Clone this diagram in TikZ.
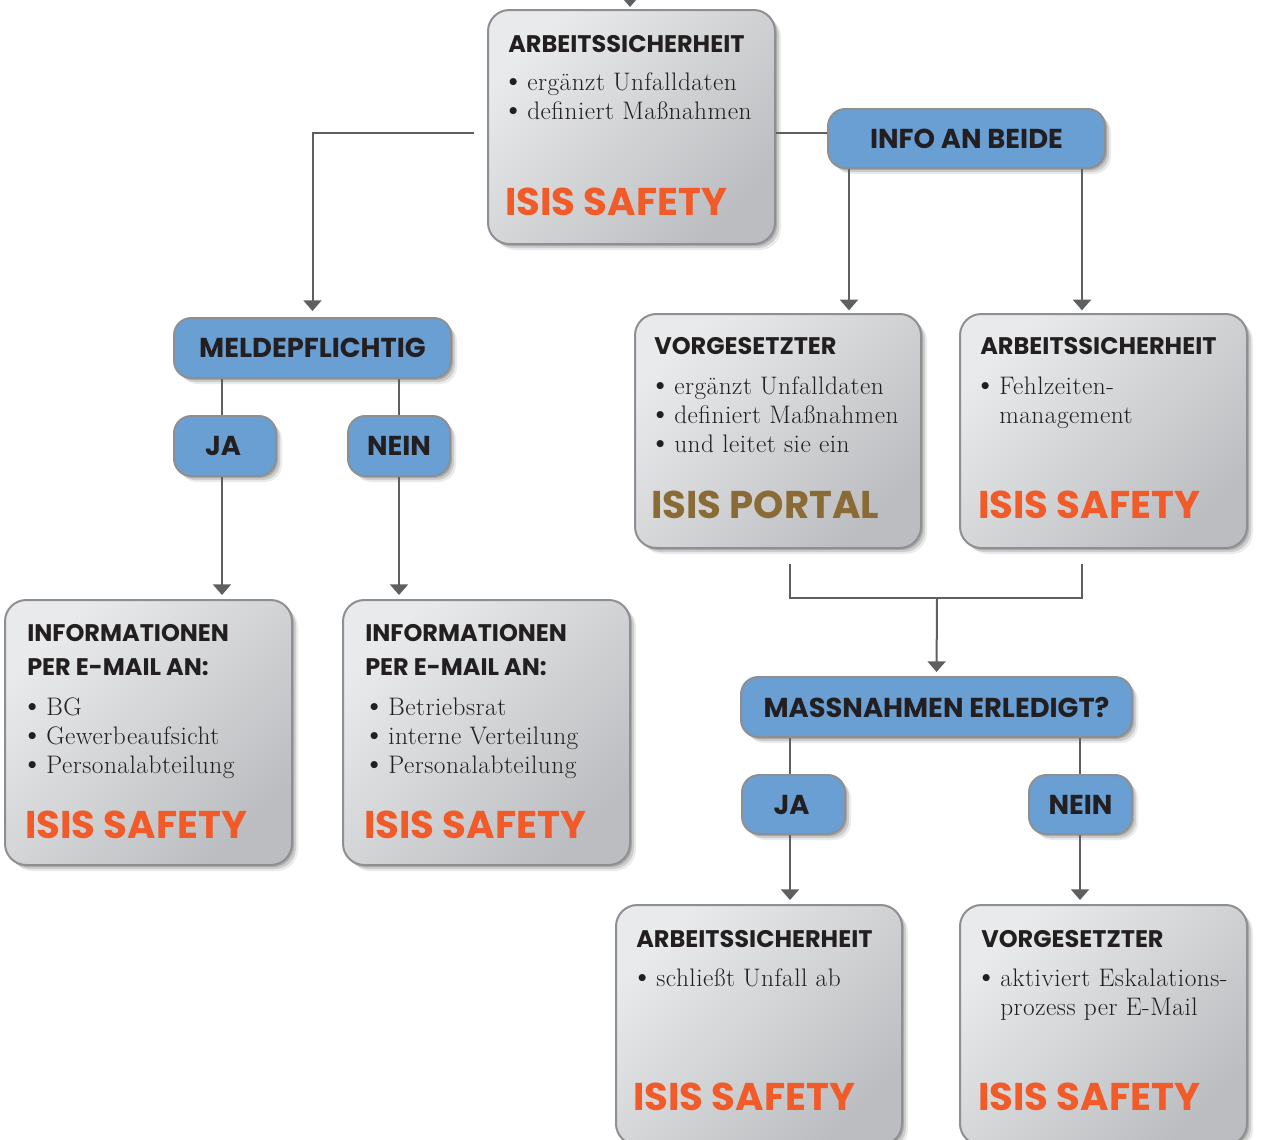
\documentclass[tikz,border=0pt]{standalone}
\usepackage{fontspec}
\usepackage{graphicx}
\setmainfont{Latin Modern Roman}[LetterSpace=2]
\newfontfamily\hd{Poppins}
\usetikzlibrary{fit,shadows,arrows.meta,calc}
\definecolor{ink}{HTML}{231F20}
\definecolor{orng}{HTML}{F15A29}
\definecolor{brwn}{HTML}{8B6B35}
\definecolor{pillblue}{HTML}{6A9FD4}
\definecolor{edge}{HTML}{8E8F92}
\definecolor{lnk}{HTML}{5E5F61}
\definecolor{lightg}{HTML}{E9EAEB}
\definecolor{darkg}{HTML}{BBBDC0}
\newcommand\bul{\hspace*{-4pt}\raisebox{-0.5pt}{\scalebox{1.25}{\textbullet}}}
\tikzset{
 shd/.style={drop shadow={shadow xshift=1.5pt,shadow yshift=-1.5pt,opacity=.16,fill=black},
             drop shadow={shadow xshift=3pt,shadow yshift=-3pt,opacity=.13,fill=black},
             drop shadow={shadow xshift=4.5pt,shadow yshift=-4.5pt,opacity=.08,fill=black}},
 card/.style={rectangle, rounded corners=16pt, draw=edge, line width=1.5pt, top color=lightg, bottom color=darkg, shading angle=45, inner sep=0pt, shd},
 pill/.style={rectangle, rounded corners=13pt, draw=edge, line width=1.5pt, fill=pillblue, inner sep=0pt, shd},
 pilltext/.style={anchor=center, inner sep=0pt, font=\hd\bfseries\fontsize{20.5}{24}\selectfont, text=ink},
 hdr/.style={anchor=base west, inner sep=0pt, font=\hd\bfseries\fontsize{18}{25.5}\selectfont, text=ink},
 brand/.style={anchor=base west, inner sep=0pt, font=\hd\bfseries\fontsize{29}{30}\selectfont, text=orng},
 body/.style={anchor=base west, inner sep=0pt, font=\fontsize{19}{21.75}\selectfont, text=ink},
 link/.style={draw=lnk, line width=1.5pt},
 arr/.style={link, -{Triangle[width=13.5pt,length=8pt]}},
}
\begin{document}
\begin{tikzpicture}[x=0.75pt,y=-0.75pt]
\useasboundingbox (0,0) rectangle (1262,1139);
% cards
\node[card, fit={(488,10)(775,244)}] (as1) {};
\node[card, fit={(5,600)(292,865)}] (inf1) {};
\node[card, fit={(343,600)(630,865)}] (inf2) {};
\node[card, fit={(635,314)(921,548)}] (vg) {};
\node[card, fit={(960,314)(1247,548)}] (as2) {};
\node[card, fit={(616,905)(902,1145)}] (as3) {};
\node[card, fit={(960,905)(1247,1145)}] (vg2) {};
% pills
\node[pill, fit={(174,318)(451,378)}] (mp) {};
\node[pill, fit={(174,416)(276,476)}] (ja1) {};
\node[pill, fit={(348,416)(450,476)}] (nein1) {};
\node[pill, fit={(828,109)(1105,168)}] (ib) {};
\node[pill, fit={(741,677)(1132,737)}] (me) {};
\node[pill, fit={(742,775)(845,834)}] (ja2) {};
\node[pill, fit={(1029,775)(1132,834)}] (nein2) {};
\node[pilltext] (mpt) at (mp) {MELDEPFLICHTIG};
\node[pilltext] (ja1t) at ([xshift=-1.5pt]ja1.center) {JA};
\node[pilltext] (nein1t) at (nein1) {NEIN};
\node[pilltext] (ibt) at (ib) {INFO AN BEIDE};
\node[pilltext] (met) at (me) {MASSNAHMEN ERLEDIGT?};
\node[pilltext] (ja2t) at ([xshift=-1.5pt]ja2.center) {JA};
\node[pilltext] (nein2t) at (nein2) {NEIN};
% texts
\node[hdr] (as1h) at (508,52) {ARBEITSSICHERHEIT};
\node[body] (as1b) at (507,90) {\begin{tabular}[t]{@{}p{15pt}@{}l@{}}\bul & ergänzt Unfalldaten\\ \bul & definiert Maßnahmen\end{tabular}};
\node[brand] (as1s) at (505,215) {ISIS SAFETY};

\node[hdr] (inf1h) at (27,641) {\begin{tabular}[t]{@{}l@{}}INFORMATIONEN\\PER E-MAIL AN:\end{tabular}};
\node[body] (inf1b) at (26,715) {\begin{tabular}[t]{@{}p{15pt}@{}l@{}}\bul & BG\\ \bul & Gewerbeaufsicht\\ \bul & Personalabteilung\end{tabular}};
\node[brand] (inf1s) at (25,838) {ISIS SAFETY};

\node[hdr] (inf2h) at (365,641) {\begin{tabular}[t]{@{}l@{}}INFORMATIONEN\\PER E-MAIL AN:\end{tabular}};
\node[body] (inf2b) at (368,715) {\begin{tabular}[t]{@{}p{15pt}@{}l@{}}\bul & Betriebsrat\\ \bul & interne Verteilung\\ \bul & Personalabteilung\end{tabular}};
\node[brand] (inf2s) at (364,838) {ISIS SAFETY};

\node[hdr] (vgh) at (654,354) {VORGESETZTER};
\node[body] (vgb) at (654,394) {\begin{tabular}[t]{@{}p{15pt}@{}l@{}}\bul & ergänzt Unfalldaten\\ \bul & definiert Maßnahmen\\ \bul & und leitet sie ein\end{tabular}};
\node[brand, text=brwn] (vgs) at (651,518) {ISIS PORTAL};

\node[hdr] (as2h) at (980,354) {ARBEITSSICHERHEIT};
\node[body] (as2b) at (979,394) {\begin{tabular}[t]{@{}p{15pt}@{}l@{}}\bul & Fehlzeiten-\\ & management\end{tabular}};
\node[brand] (as2s) at (978,518) {ISIS SAFETY};

\node[hdr] (as3h) at (636,947) {ARBEITSSICHERHEIT};
\node[body] (as3b) at (636,986) {\begin{tabular}[t]{@{}p{15pt}@{}l@{}}\bul & schließt Unfall ab\end{tabular}};
\node[brand] (as3s) at (633,1110) {ISIS SAFETY};

\node[hdr] (vg2h) at (981,947) {VORGESETZTER};
\node[body] (vg2b) at (980,986) {\begin{tabular}[t]{@{}p{15pt}@{}l@{}}\bul & aktiviert Eskalations-\\ & prozess per E-Mail\end{tabular}};
\node[brand] (vg2s) at (978,1110) {ISIS SAFETY};

% helper coordinates
\coordinate (topin) at (630,-40);
\coordinate (s1) at (474,133);
\coordinate (x222) at (222,0);
\coordinate (x399) at (399,0);
\coordinate (x849) at (849,0);
\coordinate (x1082) at (1082,0);
\coordinate (x790) at (790,0);
\coordinate (x1080) at (1080,0);
\coordinate (mrg) at (937,598);

% connectors
\draw[arr, shorten >=1.5pt] (topin) -- (as1.north -| topin);
\draw[arr, shorten >=4.5pt] (s1) -| (mp.north);
\draw[link] (as1.east |- s1) -- (ib.west |- s1);
\draw[arr, shorten >=2pt] (ib.south -| x849) -- (vg.north -| x849);
\draw[arr, shorten >=2pt] (ib.south -| x1082) -- (as2.north -| x1082);
\draw[link] (mp.south -| x222) -- (ja1.north -| x222);
\draw[link] (mp.south -| x399) -- (nein1.north -| x399);
\draw[arr, shorten >=3pt] (ja1.south -| x222) -- (inf1.north -| x222);
\draw[arr, shorten >=3pt] (nein1.south -| x399) -- (inf2.north -| x399);
\draw[link, shorten <=11.25pt, shorten >=11.25pt] (vg.south -| x790) |- (mrg) -| (as2.south -| x1082);
\draw[arr, shorten >=3pt] (mrg) -- (me.north);
\draw[link] (me.south -| x790) -- (ja2.north -| x790);
\draw[link] (me.south -| x1080) -- (nein2.north -| x1080);
\draw[arr, shorten >=3pt] (ja2.south -| x790) -- (as3.north -| x790);
\draw[arr, shorten >=3pt] (nein2.south -| x1080) -- (vg2.north -| x1080);
\end{tikzpicture}
\end{document}
